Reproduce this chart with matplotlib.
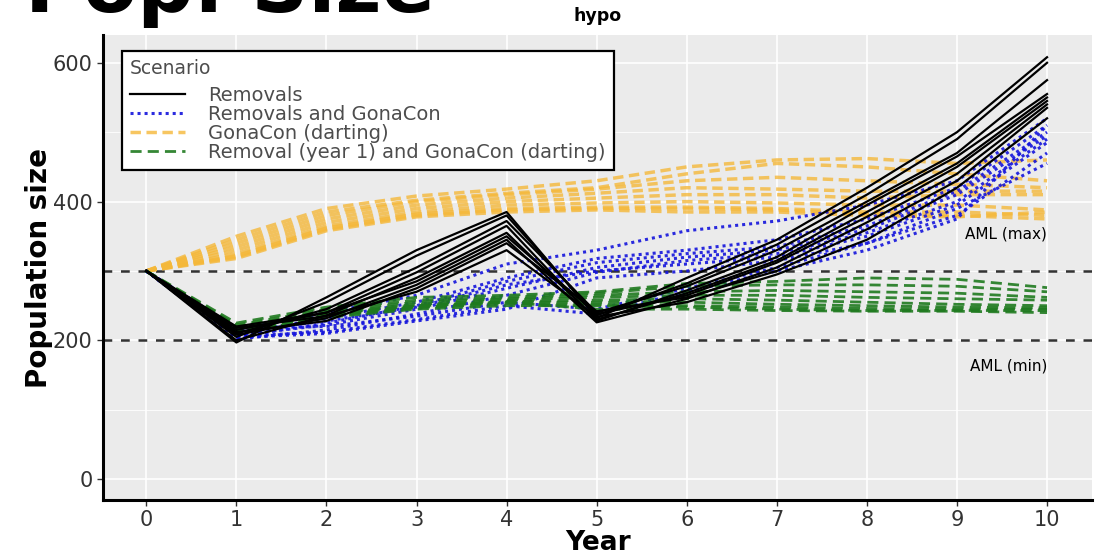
import matplotlib
matplotlib.use("Agg")
import matplotlib.pyplot as plt
from matplotlib.lines import Line2D

years = [0, 1, 2, 3, 4, 5, 6, 7, 8, 9, 10]

removals = [
    [300, 197, 262, 330, 385, 232, 290, 345, 420, 500, 608],
    [300, 205, 255, 322, 380, 236, 282, 338, 410, 490, 600],
    [300, 210, 245, 305, 372, 240, 278, 330, 400, 470, 575],
    [300, 215, 240, 298, 365, 228, 272, 320, 395, 465, 555],
    [300, 200, 236, 290, 355, 230, 268, 315, 385, 455, 550],
    [300, 220, 240, 285, 350, 238, 265, 312, 378, 450, 545],
    [300, 208, 232, 280, 345, 226, 260, 305, 370, 440, 540],
    [300, 212, 228, 275, 340, 242, 262, 300, 360, 430, 535],
    [300, 218, 235, 270, 330, 234, 255, 295, 345, 420, 520],
]

removals_gonacon = [
    [300, 215, 240, 265, 310, 330, 358, 372, 395, 430, 520],
    [300, 210, 232, 255, 290, 318, 330, 345, 375, 420, 510],
    [300, 205, 225, 250, 285, 312, 325, 335, 365, 415, 500],
    [300, 208, 222, 245, 275, 305, 320, 330, 360, 410, 495],
    [300, 202, 215, 238, 265, 298, 315, 325, 355, 400, 490],
    [300, 212, 228, 248, 280, 300, 310, 320, 350, 395, 485],
    [300, 218, 220, 235, 255, 245, 275, 305, 340, 380, 470],
    [300, 206, 212, 230, 250, 238, 270, 300, 330, 375, 510],
    [300, 204, 210, 228, 245, 290, 300, 315, 340, 390, 455],
]

gonacon_darting = [
    [300, 350, 390, 408, 418, 430, 450, 460, 462, 455, 460],
    [300, 345, 385, 402, 412, 420, 440, 455, 450, 440, 430],
    [300, 340, 380, 400, 410, 418, 430, 435, 430, 425, 420],
    [300, 335, 375, 395, 405, 412, 420, 418, 415, 415, 415],
    [300, 330, 370, 390, 400, 405, 410, 410, 405, 410, 410],
    [300, 325, 365, 385, 395, 398, 400, 398, 395, 395, 388],
    [300, 322, 362, 382, 390, 392, 392, 390, 385, 385, 380],
    [300, 320, 360, 380, 388, 390, 390, 388, 382, 380, 375],
    [300, 318, 358, 378, 385, 388, 385, 385, 380, 378, 385],
]

removal_y1_gonacon = [
    [300, 225, 248, 262, 265, 270, 282, 285, 290, 288, 276],
    [300, 222, 245, 258, 262, 268, 278, 280, 280, 278, 270],
    [300, 220, 242, 255, 260, 265, 270, 272, 270, 268, 262],
    [300, 218, 240, 252, 258, 262, 265, 265, 262, 260, 258],
    [300, 215, 238, 250, 256, 258, 260, 258, 255, 252, 250],
    [300, 213, 236, 248, 255, 255, 255, 252, 250, 248, 247],
    [300, 212, 235, 247, 253, 252, 250, 248, 246, 245, 245],
    [300, 210, 233, 245, 250, 250, 248, 245, 243, 243, 243],
    [300, 216, 238, 250, 255, 245, 245, 243, 242, 242, 240],
]

scenario_labels = ["Removals", "Removals and GonaCon", "GonaCon (darting)",
                   "Removal (year 1) and GonaCon (darting)"]
aml_levels = [300, 200]
aml_labels = ["AML (max)", "AML (min)"]
aml_label_y = [354, 163]
x_ticks = [0, 1, 2, 3, 4, 5, 6, 7, 8, 9, 10]
y_ticks = [0, 200, 400, 600]

C_BLACK = "#000000"
C_BLUE = "#1414DC"
C_ORANGE = "#F5B83A"
C_GREEN = "#1F7A1F"

styles = [
    dict(color=C_BLACK, lw=1.6, linestyle="-", alpha=1.0),
    dict(color=C_BLUE, lw=2.2, linestyle=(0, (1, 1.3)), alpha=0.9),
    dict(color=C_ORANGE, lw=2.5, linestyle=(0, (3, 1.6)), alpha=0.8),
    dict(color=C_GREEN, lw=2.0, linestyle=(0, (4, 2.2)), alpha=0.9),
]

fig = plt.figure(figsize=(11.02, 5.56), dpi=100)
ax = fig.add_axes([0.0935, 0.1007, 0.8975, 0.8363])
ax.set_facecolor("#EBEBEB")

for lvl in aml_levels:
    ax.axhline(lvl, color="#333333", lw=1.8, linestyle=(0, (3.5, 3.5)), zorder=2)

draw_order = [(2, gonacon_darting), (1, removals_gonacon), (3, removal_y1_gonacon), (0, removals)]
for idx, runs in draw_order:
    st = styles[idx]
    for run in runs:
        ax.plot(years, run, color=st["color"], lw=st["lw"], linestyle=st["linestyle"],
                alpha=st["alpha"], zorder=3)

ax.set_xlim(-0.48, 10.5)
ax.set_ylim(-30, 640)
ax.set_xticks(x_ticks)
ax.set_yticks(y_ticks)
ax.set_yticks([100, 300, 500], minor=True)
ax.grid(True, which="major", color="white", lw=1.2, zorder=0)
ax.grid(True, which="minor", axis="y", color="white", lw=0.6, zorder=0)
ax.set_axisbelow(True)
ax.tick_params(axis="both", which="major", labelsize=15, colors="#333333", length=4, width=1)
ax.tick_params(axis="both", which="minor", length=0)
for s in ["top", "right"]:
    ax.spines[s].set_visible(False)
for s in ["left", "bottom"]:
    ax.spines[s].set_linewidth(2.2)
    ax.spines[s].set_color("black")

ax.set_xlabel("Year", fontsize=19, fontweight="bold", labelpad=0)
ax.set_ylabel("Population size", fontsize=20, fontweight="bold", labelpad=0)
ax.set_title("hypo", fontsize=12.5, fontweight="bold", pad=10)

for lab, yy in zip(aml_labels, aml_label_y):
    ax.text(10, yy, lab, ha="right", va="center", fontsize=11, color="black")

handles = [Line2D([0], [0], color=st["color"], lw=st["lw"], linestyle=st["linestyle"],
                  alpha=st["alpha"]) for st in styles]
leg = ax.legend(handles, scenario_labels, title="Scenario", loc="upper left",
                bbox_to_anchor=(0.019, 0.966), borderaxespad=0, frameon=True,
                fancybox=False, fontsize=14, title_fontsize=13.5,
                labelspacing=0.0, handlelength=2.85, handletextpad=1.2,
                borderpad=0.4)
leg._legend_box.align = "left"
leg._legend_box.sep = 6
leg.get_frame().set_edgecolor("black")
leg.get_frame().set_linewidth(1.6)
leg.get_frame().set_alpha(1.0)
leg.get_title().set_color("#4D4D4D")
for t in leg.get_texts():
    t.set_color("#4D4D4D")

fig.text(25 / 1102, 1 - 12 / 556, "Pop. Size", fontsize=57, fontweight="bold",
         ha="left", va="baseline", color="black")

fig.savefig("out.png", dpi=100)
